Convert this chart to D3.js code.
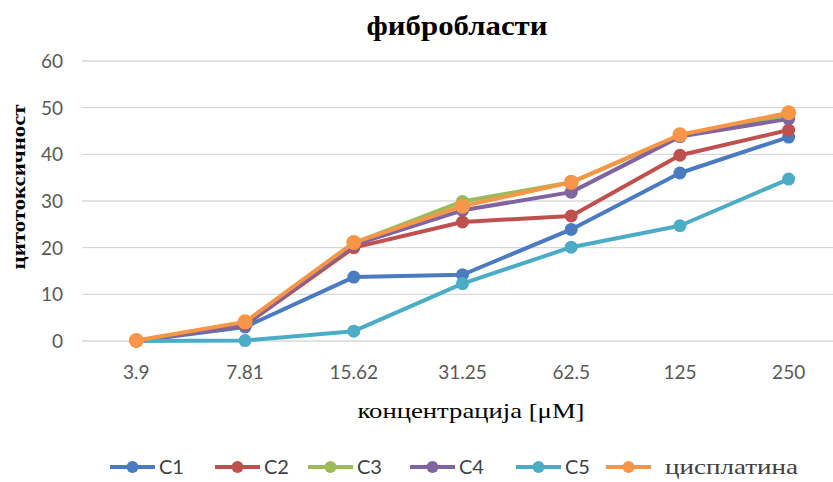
<!DOCTYPE html>
<html><head><meta charset="utf-8">
<script src="https://cdn.jsdelivr.net/npm/d3@7"></script>
<style>body{margin:0;background:#fff}svg{display:block}</style>
</head><body>
<svg id="c" width="833" height="482"></svg>
<script>
const categories = ["3.9","7.81","15.62","31.25","62.5","125","250"];
const seriesNames = ["C1","C2","C3","C4","C5","цисплатина"];
const seriesColors = ["#4a7ac0","#c0504d","#9bbb59","#8064a2","#4bacc6","#f79646"];
const C1 = [0, 3.0, 13.7, 14.2, 23.9, 36.0, 43.7];
const C2 = [0, 3.4, 20.0, 25.5, 26.8, 39.8, 45.2];
const C3 = [0, 4.0, 21.0, 29.9, 34.0, 44.0, 48.5];
const C4 = [0, 3.5, 20.6, 28.0, 31.9, 43.8, 47.6];
const C5 = [0, 0.1, 2.1, 12.3, 20.1, 24.7, 34.7];
const cis = [0.1, 4.1, 21.1, 28.9, 34.0, 44.2, 48.9];
const yTicks = [0,10,20,30,40,50,60];
const allSeries = [C1,C2,C3,C4,C5,cis];

const svg = d3.select("#c");
const x = d3.scaleBand().domain(categories).range([82, 843]);
const y = d3.scaleLinear().domain([0,60]).range([341, 61]);
const serif = "'Liberation Serif','Times New Roman',serif";
const sans = "Lato,'Liberation Sans',Arial,sans-serif";

// gridlines
svg.append("g").selectAll("line").data(yTicks).join("line")
  .attr("x1",82).attr("x2",833).attr("y1",d=>y(d)).attr("y2",d=>y(d))
  .attr("stroke","#d9d9d9").attr("stroke-width",1.3);
// y tick labels
svg.append("g").selectAll("text").data(yTicks).join("text")
  .attr("x",63).attr("y",d=>y(d)+7).attr("text-anchor","end")
  .attr("font-family",sans).attr("font-size",19).attr("fill","#595959").text(d=>d);
// x tick labels
svg.append("g").selectAll("text").data(categories).join("text")
  .attr("x",d=>x(d)+x.bandwidth()/2).attr("y",379).attr("text-anchor","middle")
  .attr("font-family",sans).attr("font-size",19).attr("fill","#595959").text(d=>d);

// title
svg.append("text").attr("x",457).attr("y",35).attr("text-anchor","middle")
  .attr("font-family",serif).attr("font-weight","bold").attr("font-size",27).attr("fill","#000")
  .attr("textLength",181).attr("lengthAdjust","spacingAndGlyphs")
  .text("фибробласти");
// y title
svg.append("text").attr("transform","translate(25,187) rotate(-90)").attr("text-anchor","middle")
  .attr("font-family",serif).attr("font-weight","bold").attr("font-size",19).attr("fill","#000")
  .attr("textLength",165).attr("lengthAdjust","spacingAndGlyphs")
  .text("цитотоксичност");
// x title
svg.append("text").attr("x",471).attr("y",418).attr("text-anchor","middle")
  .attr("font-family",serif).attr("font-size",21).attr("fill","#000")
  .attr("textLength",227).attr("lengthAdjust","spacingAndGlyphs")
  .text("концентрација [μM]");

const line = d3.line().x((d,i)=>x(categories[i])+x.bandwidth()/2).y(d=>y(d));
allSeries.forEach((s,k)=>{
  const g = svg.append("g");
  g.append("path").datum(s).attr("d",line).attr("fill","none")
    .attr("stroke",seriesColors[k]).attr("stroke-width",4).attr("stroke-linejoin","round");
  g.selectAll("circle").data(s).join("circle")
    .attr("cx",(d,i)=>x(categories[i])+x.bandwidth()/2).attr("cy",d=>y(d))
    .attr("r",k===5?7.5:6.5).attr("fill",seriesColors[k]);
});

// legend
const legX = [110,215,308,410,516,606];
const lg = svg.append("g");
seriesNames.forEach((n,k)=>{
  const x0 = legX[k];
  lg.append("line").attr("x1",x0).attr("x2",x0+45).attr("y1",467).attr("y2",467)
    .attr("stroke",seriesColors[k]).attr("stroke-width",4);
  lg.append("circle").attr("cx",x0+22.5).attr("cy",467).attr("r",6).attr("fill",seriesColors[k]);
  const t = lg.append("text").attr("y",474).attr("fill","#404040").text(n);
  if (k===5) {
    t.attr("x",x0+59).attr("font-family",serif).attr("font-size",21)
     .attr("textLength",133).attr("lengthAdjust","spacingAndGlyphs");
  } else {
    t.attr("x",x0+49).attr("font-family",sans).attr("font-size",20);
  }
});
</script>
</body></html>
